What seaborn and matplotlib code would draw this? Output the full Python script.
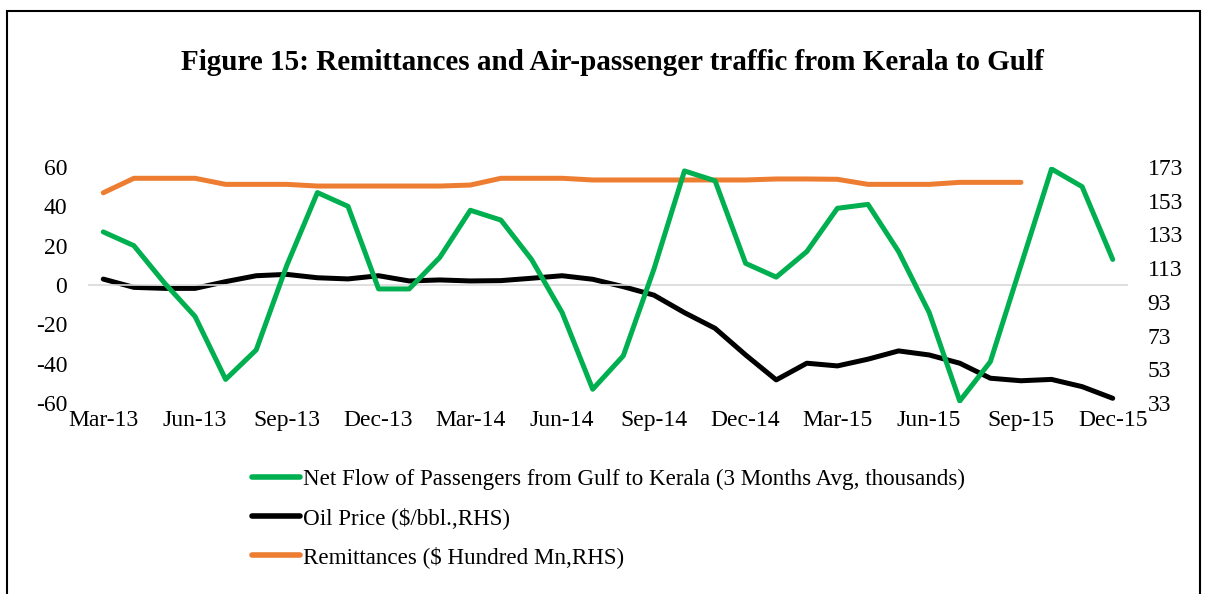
import pandas as pd
import numpy as np
import matplotlib.pyplot as plt
import seaborn as sns
from matplotlib.lines import Line2D
from matplotlib.patches import Rectangle

# --- data ---
months = ['Mar-13', 'Apr-13', 'May-13', 'Jun-13', 'Jul-13', 'Aug-13', 'Sep-13', 'Oct-13', 'Nov-13',
          'Dec-13', 'Jan-14', 'Feb-14', 'Mar-14', 'Apr-14', 'May-14', 'Jun-14', 'Jul-14', 'Aug-14',
          'Sep-14', 'Oct-14', 'Nov-14', 'Dec-14', 'Jan-15', 'Feb-15', 'Mar-15', 'Apr-15', 'May-15',
          'Jun-15', 'Jul-15', 'Aug-15', 'Sep-15', 'Oct-15', 'Nov-15', 'Dec-15']

net_flow = [27, 20, 1, -16, -48, -33, 10, 47, 40, -2, -2, 14, 38, 33, 13, -14, -53, -36,
            8, 58, 53, 11, 4, 17, 39, 41, 17, -14, -59, -39, 10, 59, 50, 13]

oil_price = [106.5, 101.6, 101, 101, 105, 108.5, 109.3, 107.3, 106.6, 108.5, 105.4, 106,
             105.4, 105.6, 107, 108.5, 106.4, 102, 97, 86.6, 77.3, 61.5, 46.7, 56.6,
             55, 59, 63.9, 61.5, 56.6, 47.7, 46.2, 47, 42.7, 35.8]

remittances = [157.7, 166.3, 166.3, 166.3, 162.7, 162.7, 162.7, 161.7, 161.7, 161.7, 161.7, 161.7,
               162.3, 166.3, 166.3, 166.3, 165.3, 165.3, 165.3, 165.3, 165.3, 165.3, 165.9, 165.9,
               165.7, 162.7, 162.7, 162.7, 163.9, 163.9, 163.9, None, None, None]

left_ticks = [-60, -40, -20, 0, 20, 40, 60]
right_ticks = [33, 53, 73, 93, 113, 133, 153, 173]

labels = ['Net Flow of Passengers from Gulf to Kerala (3 Months Avg, thousands)',
          'Oil Price ($/bbl.,RHS)',
          'Remittances ($ Hundred Mn,RHS)']
colors = ['#00B050', '#000000', '#ED7D31']

df = pd.DataFrame({'idx': np.arange(len(months)), 'month': months,
                   'net_flow': net_flow, 'oil': oil_price,
                   'remit': pd.to_numeric(pd.Series(remittances), errors='coerce')})

sns.set_style('white')
plt.rcParams['font.family'] = ['Liberation Serif', 'DejaVu Serif']
plt.rcParams['text.color'] = 'black'
plt.rcParams['xtick.color'] = 'black'
plt.rcParams['ytick.color'] = 'black'
plt.rcParams['axes.unicode_minus'] = False

fig = plt.figure(figsize=(12.05, 5.94), dpi=100)
ax = fig.add_axes([88 / 1205, 1 - 403 / 594, (1128 - 88) / 1205, (403 - 167) / 594])
ax2 = ax.twinx()

lw = 3.6
sns.lineplot(data=df, x='idx', y='net_flow', ax=ax, color=colors[0], linewidth=lw, zorder=3)
sns.lineplot(data=df, x='idx', y='oil', ax=ax2, color=colors[1], linewidth=lw)
sns.lineplot(data=df, x='idx', y='remit', ax=ax2, color=colors[2], linewidth=lw)

ax.set_zorder(ax2.get_zorder() + 1)
ax.patch.set_visible(False)

ax.axhline(0, color='#D9D9D9', linewidth=1.2, zorder=1)

ax.set_xlim(-0.5, len(months) - 0.5)
ax.set_ylim(-60, 60)
ax2.set_ylim(33, 173)
ax.set_yticks(left_ticks)
ax2.set_yticks(right_ticks)
ax.set_xticks(df['idx'][::3])
ax.set_xticklabels(df['month'][::3])

for a in (ax, ax2):
    for s in a.spines.values():
        s.set_visible(False)
    a.set_xlabel('')
    a.set_ylabel('')
    a.tick_params(length=0, labelsize=17)
ax.tick_params(axis='y', pad=15)
ax2.tick_params(axis='y', pad=14)
ax.tick_params(axis='x', pad=5)

fig.suptitle('Figure 15: Remittances and Air-passenger traffic from Kerala to Gulf',
             x=612 / 1205, y=1 - 62 / 594, va='center', fontsize=21, fontweight='bold')

handles = [Line2D([0], [0], color=c, linewidth=lw + 0.4, solid_capstyle='round') for c in colors]
fig.legend(handles, labels, loc='upper left', bbox_to_anchor=(252 / 1205, 1 - 469 / 594),
           frameon=False, fontsize=16.6, handlelength=2.1, handletextpad=0.1,
           labelspacing=0.74, borderaxespad=0, borderpad=0)

fig.patches.append(Rectangle((7 / 1205, -0.01), 1193 / 1205, 1 - 11 / 594 + 0.01,
                             transform=fig.transFigure, fill=False,
                             edgecolor='black', linewidth=1.5))

plt.savefig('out.png', dpi=100)
plt.close()
